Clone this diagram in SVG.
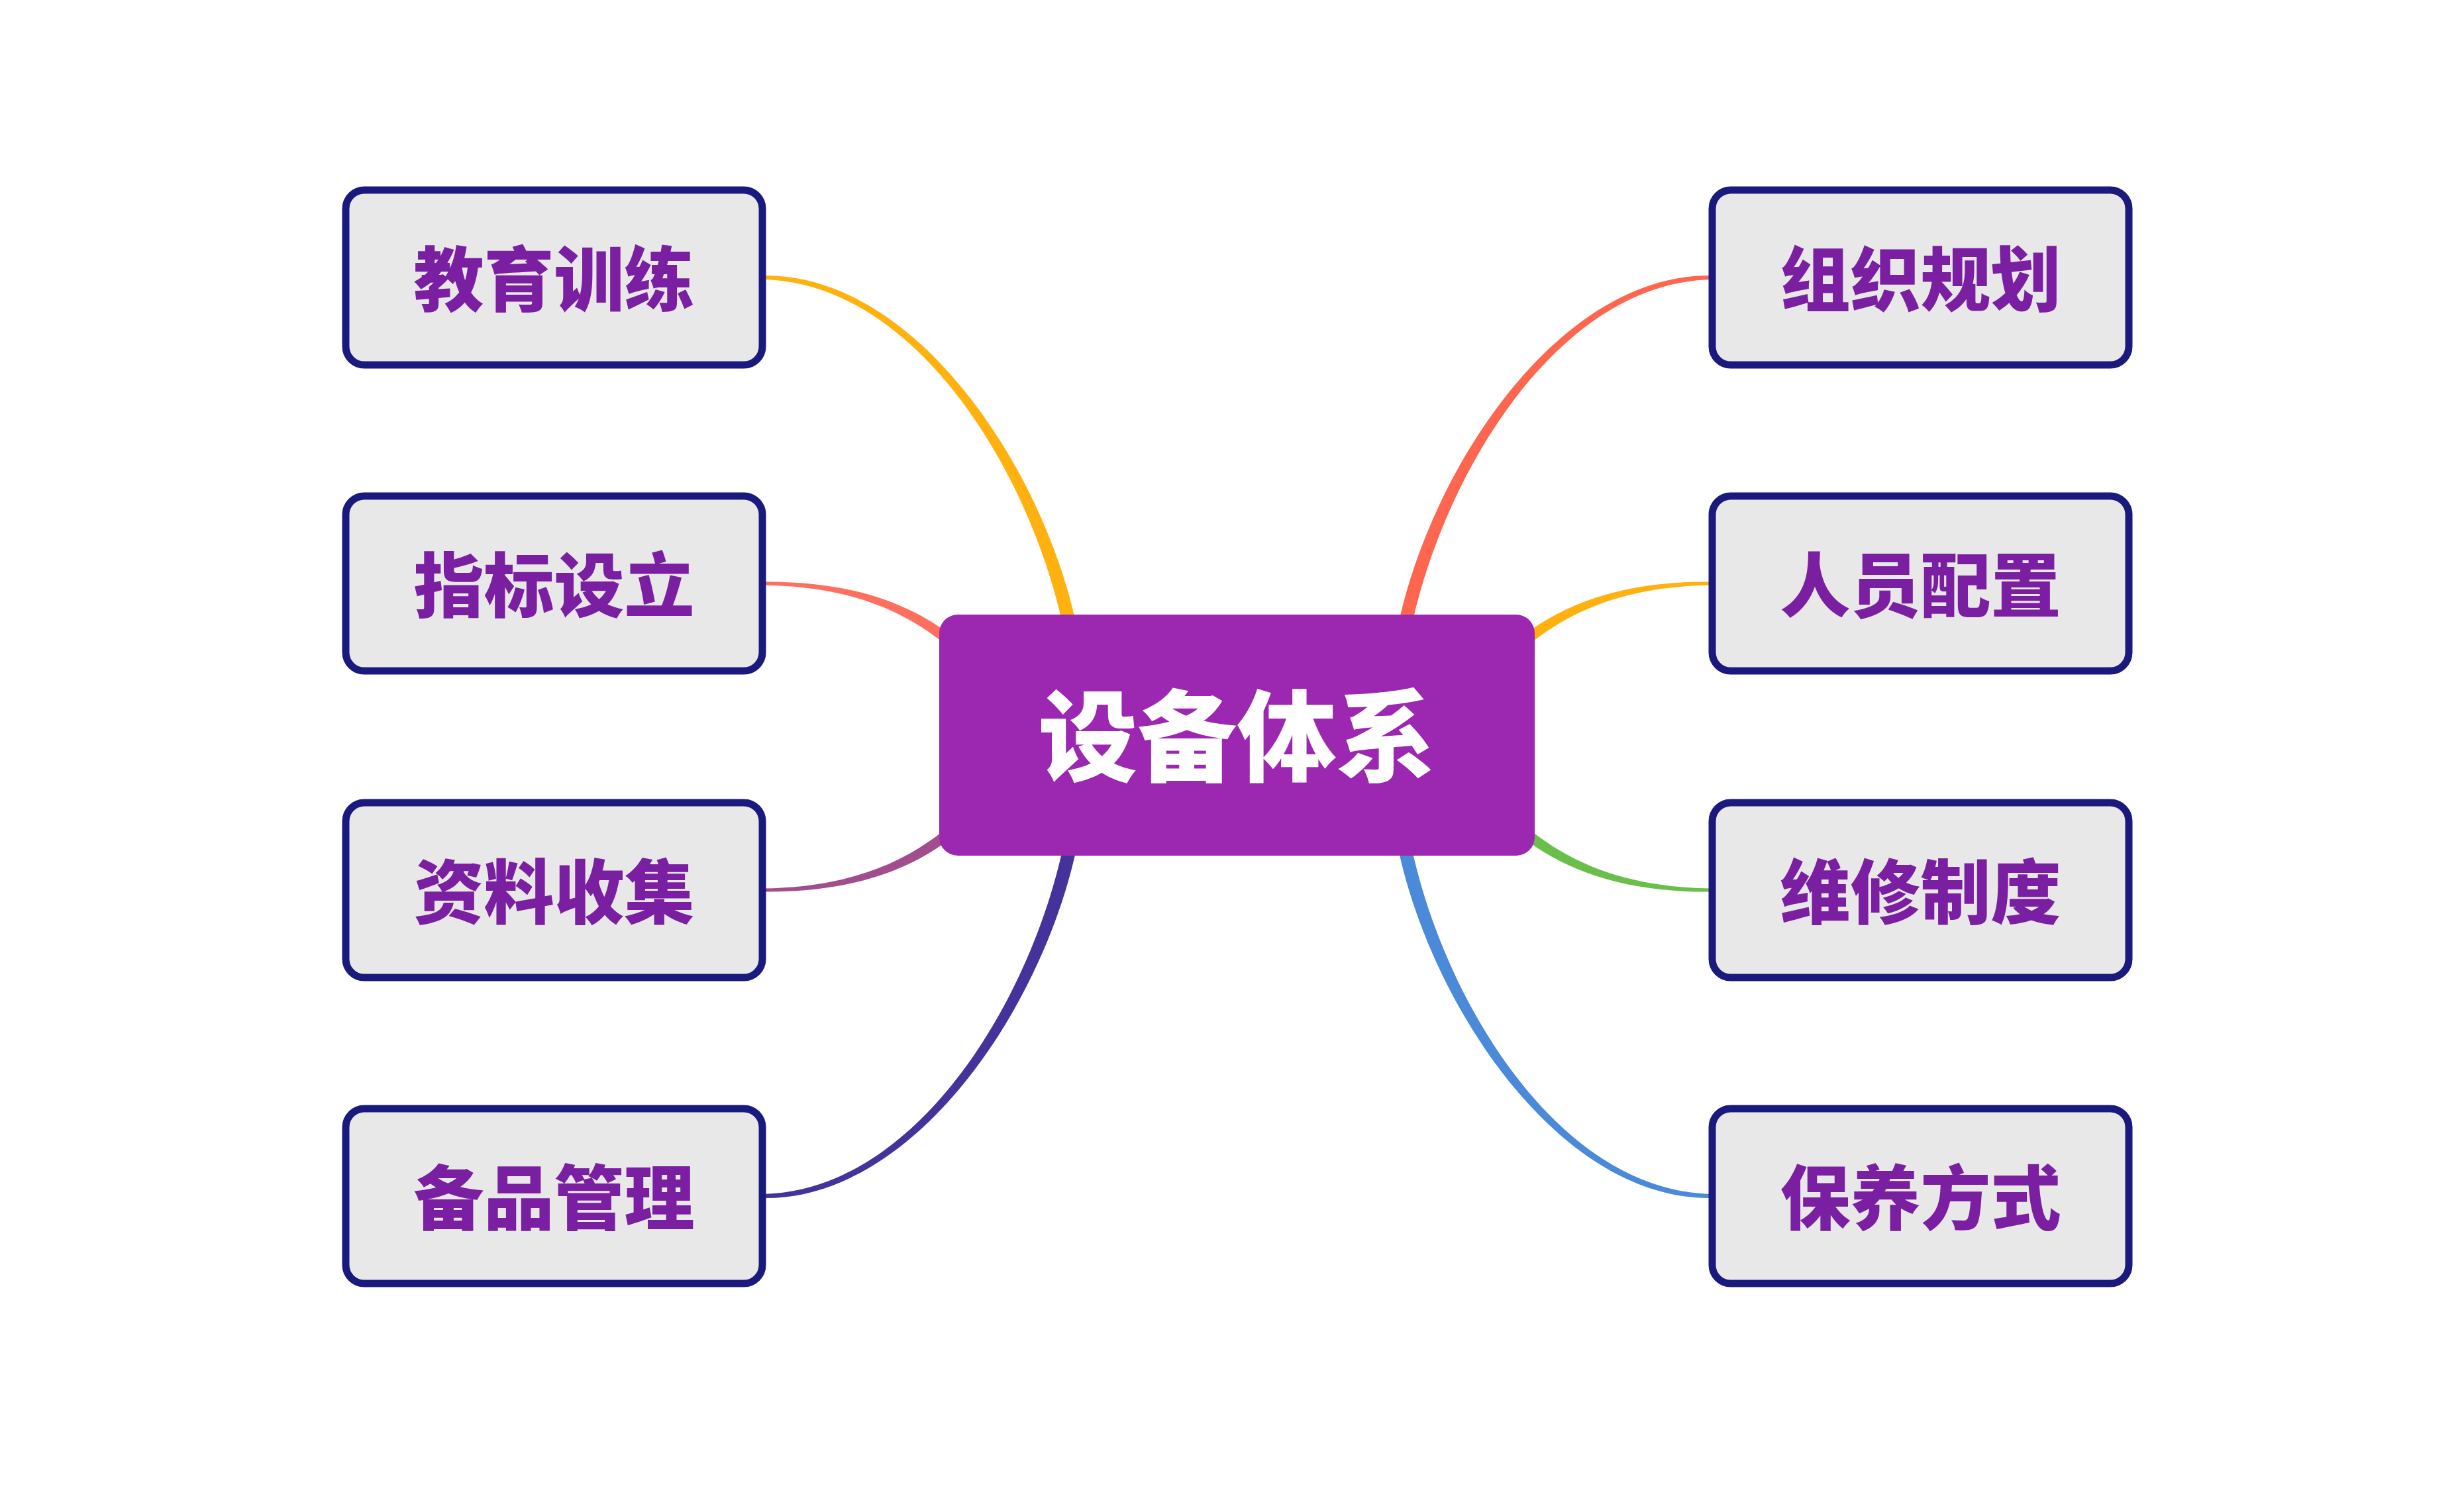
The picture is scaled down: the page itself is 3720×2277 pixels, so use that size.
<svg xmlns="http://www.w3.org/2000/svg" width="3720" height="2277" viewBox="0 0 3720 2277">
<style>
.node rect{fill:#E8E8E8;stroke:#1A1A7E;stroke-width:11}
.node text{font-family:"Noto Sans CJK SC","Noto Sans",sans-serif;font-weight:900;font-size:106px;fill:#7B1FA2;text-anchor:middle;dominant-baseline:central}
.center rect{fill:#9C27B0}
.center text{font-family:"Noto Sans CJK SC","Noto Sans",sans-serif;font-weight:900;font-size:150px;fill:#FFFFFF;text-anchor:middle;dominant-baseline:central}
</style>
<rect width="3720" height="2277" fill="#FFFFFF"/>
<g id="connectors">
<path fill="#FFB20F" d="M1151,416 C1380,412 1571.8,702.8 1623.8,937.8 L1604.2,942.2 C1552.2,707.2 1380,426 1151,422 Z"/>
<path fill="#FF6F5E" d="M1151,878.5 C1270,877 1364.3,904.5 1434.9,958.7 L1425.1,971.3 C1355.7,915.5 1270,885 1151,883.5 Z"/>
<path fill="#A24E8E" d="M1151,1346.5 C1270,1348 1364.3,1320.5 1434.9,1266.3 L1425.1,1253.7 C1355.7,1309.5 1270,1340 1151,1341.5 Z"/>
<path fill="#45329B" d="M1151,1809 C1380,1813 1571.8,1522.2 1623.8,1287.2 L1604.2,1282.8 C1552.2,1517.8 1380,1799 1151,1803 Z"/>
<path fill="#FF6650" d="M2585,416 C2356,412 2164.2,702.8 2112.2,937.8 L2131.8,942.2 C2183.8,707.2 2356,426 2585,422 Z"/>
<path fill="#FFB20F" d="M2585,878.5 C2466,877 2371.7,904.5 2301.1,958.7 L2310.9,971.3 C2380.3,915.5 2466,885 2585,883.5 Z"/>
<path fill="#6ABF4B" d="M2585,1346.5 C2466,1348 2371.7,1320.5 2301.1,1266.3 L2310.9,1253.7 C2380.3,1309.5 2466,1340 2585,1341.5 Z"/>
<path fill="#4A8AD9" d="M2585,1809 C2356,1813 2164.2,1522.2 2112.2,1287.2 L2131.8,1282.8 C2183.8,1517.8 2356,1799 2585,1803 Z"/>
</g>
<g id="center" class="center">
<rect x="1418" y="928" width="899" height="364" rx="28"/>
<text x="1867.5" y="1102">设备体系</text>
</g>
<g id="n1" class="node"><rect x="522" y="287" width="629" height="264" rx="28"/><text x="836.5" y="415">教育训练</text></g>
<g id="n2" class="node"><rect x="522" y="749" width="629" height="264" rx="28"/><text x="836.5" y="877">指标设立</text></g>
<g id="n3" class="node"><rect x="522" y="1212" width="629" height="264" rx="28"/><text x="836.5" y="1340">资料收集</text></g>
<g id="n4" class="node"><rect x="522" y="1674" width="629" height="264" rx="28"/><text x="836.5" y="1802">备品管理</text></g>
<g id="n5" class="node"><rect x="2585" y="287" width="629" height="264" rx="28"/><text x="2899.5" y="415">组织规划</text></g>
<g id="n6" class="node"><rect x="2585" y="749" width="629" height="264" rx="28"/><text x="2899.5" y="877">人员配置</text></g>
<g id="n7" class="node"><rect x="2585" y="1212" width="629" height="264" rx="28"/><text x="2899.5" y="1340">维修制度</text></g>
<g id="n8" class="node"><rect x="2585" y="1674" width="629" height="264" rx="28"/><text x="2899.5" y="1802">保养方式</text></g>
</svg>
